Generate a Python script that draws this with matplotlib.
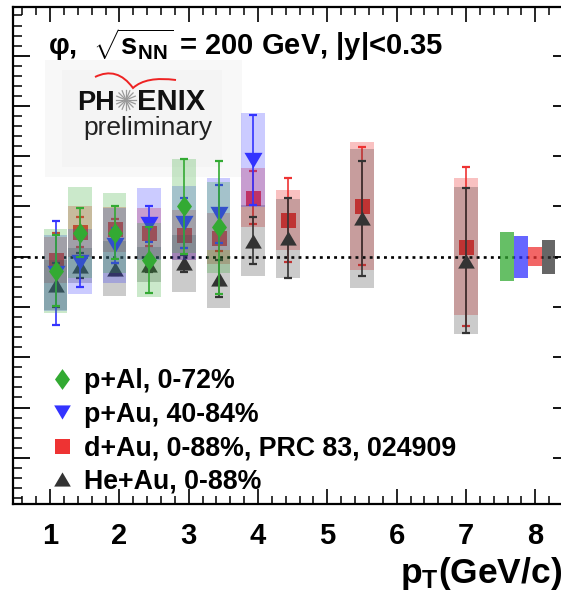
import numpy as np
import matplotlib
matplotlib.use('Agg')
import matplotlib.pyplot as plt
from matplotlib.path import Path
from matplotlib.lines import Line2D
import matplotlib.patches as mpatches
from matplotlib.ticker import MultipleLocator

plt.rcParams['font.family'] = ['Liberation Sans', 'DejaVu Sans']
plt.rcParams['font.weight'] = 'bold'
plt.rcParams['mathtext.fontset'] = 'custom'
plt.rcParams['mathtext.rm'] = 'Liberation Sans'
plt.rcParams['mathtext.bf'] = 'Liberation Sans:bold'
plt.rcParams['mathtext.it'] = 'Liberation Sans:italic'

# ---------------- data ----------------
pt = [1.08, 1.43, 1.93, 2.43, 2.93, 3.43, 3.93, 4.43, 5.50, 7.00]

pal_val  = [0.945, 1.096, 1.095, 0.987, 1.200, 1.117]
pal_stat = [0.140, 0.097, 0.105, 0.133, 0.190, 0.264]
pal_sys  = [0.167, 0.180, 0.160, 0.146, 0.187, 0.182]

pau_val  = [0.935, 0.980, 1.045, 1.130, 1.135, 1.170, 1.385]
pau_stat = [0.208, 0.100, 0.070, 0.073, 0.100, 0.115, 0.181]
pau_sys  = [0.150, 0.130, 0.150, 0.142, 0.147, 0.143, 0.187]

dau_val  = [0.987, 1.100, 1.109, 1.093, 1.086, 1.073, 1.235, 1.147, 1.201, 1.040]
dau_stat = [0.106, 0.060, 0.040, 0.050, 0.050, 0.050, 0.106, 0.168, 0.235, 0.317]
dau_sys  = [0.090, 0.100, 0.090, 0.100, 0.100, 0.100, 0.117, 0.120, 0.254, 0.272]

heau_val  = [0.887, 0.965, 0.952, 0.968, 0.974, 0.913, 1.064, 1.073, 1.153, 0.984]
heau_stat = [0.088, 0.050, 0.025, 0.030, 0.034, 0.075, 0.094, 0.159, 0.229, 0.289]
heau_sys  = [0.100, 0.070, 0.110, 0.070, 0.113, 0.115, 0.140, 0.156, 0.277, 0.292]

labels = ["p+Al, 0-72%", "p+Au, 40-84%", "d+Au, 0-88%, PRC 83, 024909", "He+Au, 0-88%"]
norm_unc = [0.098, 0.084, 0.038, 0.068]     # p+Al, p+Au, d+Au, He+Au
norm_x   = [7.59, 7.79, 7.99, 8.19]
xticks = [1, 2, 3, 4, 5, 6, 7, 8]

# ---------------- style ----------------
W, H = 561, 592
fig = plt.figure(figsize=(W/100, H/100), dpi=100)
def fx(px): return px / W
def fy(py): return 1 - py / H

ax = fig.add_axes([fx(13.3), fy(504.3), (570 - 13.3)/W, (504.3 - 6.7)/H])
ax.set_xlim(0.47, 8.5)
ax.set_ylim(0.015, 1.995)

c_green = '#33aa33'
c_blue = '#3333ff'
c_red = '#ee3333'
c_black = '#333333'

diamond = [(0, 1), (0.72, 0), (0, -1), (-0.72, 0)]
tri_down = [(-1, 0.85), (1, 0.85), (0, -0.85)]
tri_up = [(-1, -0.85), (1, -0.85), (0, 0.85)]

box_w = 0.34
series = [
    (pt[:10], dau_val, dau_stat, dau_sys, c_red, 's', 10.8, 0.30),
    (pt[:10], heau_val, heau_stat, heau_sys, c_black, tri_up, 12.0, 0.25),
    (pt[:7], pau_val, pau_stat, pau_sys, c_blue, tri_down, 13.0, 0.25),
    (pt[:6], pal_val, pal_stat, pal_sys, c_green, diamond, 15.0, 0.25),
]

z = 2
for xs, v, st, sy, c, m, ms, a in series:
    v = np.array(v); sy = np.array(sy)
    ax.bar(xs, 2*sy, bottom=v - sy, width=box_w, color=c, alpha=a, linewidth=0, zorder=z)
    ax.errorbar(xs, v, yerr=st, fmt='none', ecolor=c, elinewidth=1.2,
                capsize=2.6, capthick=1.6, zorder=z + 0.5)
    ax.plot(xs, v, linestyle='none', marker=m, markersize=ms, color=c,
            markeredgewidth=0, zorder=z + 0.6)
    z += 1

ax.axhline(1.0, color='black', linestyle=(0, (1.1, 1.6)), linewidth=1.9, zorder=2.2)

norm_colors = [c_green, c_blue, c_red, c_black]
nu = np.array(norm_unc)
ax.bar(norm_x, 2*nu, bottom=1 - nu, width=0.2, color=norm_colors, alpha=0.75,
       linewidth=0, zorder=7)

# axes / ticks
for s in ax.spines.values():
    s.set_linewidth(1.6)
ax.xaxis.set_major_locator(MultipleLocator(1))
ax.xaxis.set_minor_locator(MultipleLocator(0.2))
ax.yaxis.set_major_locator(MultipleLocator(0.2))
ax.yaxis.set_minor_locator(MultipleLocator(0.04))
ax.set_xticks(xticks)
ax.tick_params(axis='x', which='both', direction='in', top=True, bottom=True)
ax.tick_params(axis='x', which='major', length=11, width=1.2, labelsize=21, pad=13)
ax.tick_params(axis='x', which='minor', length=5.5, width=1.1)
ax.tick_params(axis='y', which='both', direction='in', left=True, right=True, labelleft=False)
ax.tick_params(axis='y', which='major', length=12, width=1.3)
ax.tick_params(axis='y', which='minor', length=6.5, width=1.1)
for lab in ax.get_xticklabels():
    lab.set_fontweight('bold')

# legend
handles = [
    Line2D([], [], linestyle='none', marker=diamond, markersize=15, color=c_green, markeredgewidth=0),
    Line2D([], [], linestyle='none', marker=tri_down, markersize=12, color=c_blue, markeredgewidth=0),
    Line2D([], [], linestyle='none', marker='s', markersize=10.8, color=c_red, markeredgewidth=0),
    Line2D([], [], linestyle='none', marker=tri_up, markersize=12, color=c_black, markeredgewidth=0),
]
leg = ax.legend(handles, labels, loc='upper left', bbox_to_anchor=(fx(48.1), fy(368)),
                bbox_transform=fig.transFigure, frameon=False, borderpad=0, borderaxespad=0,
                handlelength=1.0, handletextpad=0.34, labelspacing=0.28,
                prop={'weight': 'bold', 'size': 19.3})
leg.set_zorder(10)

# title text
fig.text(fx(48), fy(55), "φ,  $\\sqrt{\\mathbf{s_{NN}}}$ = 200 GeV, |y|<0.35",
         fontsize=21, fontweight='bold', ha='left', va='baseline')

# x label
fig.text(fx(400), fy(583), "p$_{\\mathbf{T}}$(GeV/c)", fontsize=25.5, fontweight='bold',
         ha='left', va='baseline')

# PHENIX preliminary logo
ax.add_patch(mpatches.Rectangle((fx(45), fy(177)), (242 - 45)/W, (177 - 60)/H,
             transform=fig.transFigure, facecolor='#f8f8f8', edgecolor='none',
             zorder=0.5, clip_on=False))
ax.add_patch(mpatches.Rectangle((fx(62), fy(167)), (222 - 62)/W, (167 - 70)/H,
             transform=fig.transFigure, facecolor='#f4f4f4', edgecolor='none',
             zorder=0.6, clip_on=False))
ax.text(fx(115), fy(110), "PH", transform=fig.transFigure, fontsize=19.5, fontweight='bold',
        ha='right', va='baseline', color='#111111', zorder=1)
ax.text(fx(137), fy(110), "ENIX", transform=fig.transFigure, fontsize=21, fontweight='bold',
        ha='left', va='baseline', color='#111111', zorder=1)
ax.text(fx(148), fy(135), "preliminary", transform=fig.transFigure, fontsize=19,
        fontweight='normal', ha='center', va='baseline', color='#222222', zorder=1)
cx, cy, r = 126, 100, 10
for ang in np.linspace(0, np.pi, 8, endpoint=False):
    ax.add_line(Line2D([fx(cx - r*np.cos(ang)), fx(cx + r*np.cos(ang))],
                       [fy(cy - r*np.sin(ang)), fy(cy + r*np.sin(ang))],
                       transform=fig.transFigure, color='#999999', lw=0.9,
                       zorder=1, clip_on=False))
verts = [(95, 77), (117, 66), (133, 88), (146, 76), (176, 80)]
verts = [(fx(a), fy(b)) for a, b in verts]
arc = Path(verts, [Path.MOVETO, Path.CURVE3, Path.CURVE3, Path.CURVE3, Path.CURVE3])
ax.add_patch(mpatches.PathPatch(arc, transform=fig.transFigure, fill=False,
             edgecolor='#ee2222', lw=1.4, zorder=1, clip_on=False))

fig.savefig('out.png', dpi=100)
